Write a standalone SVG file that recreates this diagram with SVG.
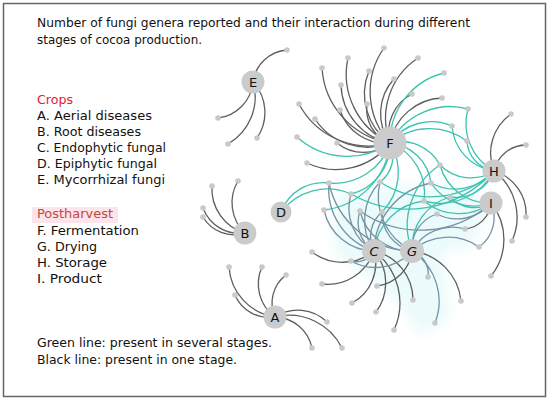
<svg xmlns="http://www.w3.org/2000/svg" width="550" height="401" viewBox="0 0 550 401">
<defs>
<filter id="blur" x="-20%" y="-20%" width="140%" height="140%"><feGaussianBlur stdDeviation="6"/></filter>
</defs>
<style>
text{font-family:"DejaVu Sans","Liberation Sans",sans-serif;font-size:12.5px;fill:#111}
.red{fill:#e8192c}
.ph{fill:#bf4a3a}
#connectors path{fill:none;stroke-width:1.3}
.k{stroke:#5e5e5e}
.t{stroke:#3cc3b0}
.s{stroke:#7693a4}
.leaf{fill:#c9c9c9}
.hub circle{fill:#cbcbcb}
.hub text{font-size:13px;text-anchor:middle;fill:#111}
</style>
<rect x="3.5" y="3.5" width="542" height="393" fill="#fff" stroke="#666" stroke-width="1.5"/>
<path d="M335,196 L400,186 L470,188 L486,214 L472,246 L442,252 L450,318 L420,336 L398,302 L366,276 L334,252 Z" fill="#dcf7f7" opacity="0.55" filter="url(#blur)"/>
<g id="connectors">
<path class="k" d="M253 82 A37 37 0 0 1 287 50"/>
<path class="k" d="M253 82 A40 40 0 0 1 218 118"/>
<path class="k" d="M253 82 A54 54 0 0 1 228 144"/>
<path class="k" d="M253 82 A45 45 0 0 1 257 138"/>
<path class="k" d="M245 233 A46 46 0 0 1 212 186"/>
<path class="k" d="M245 233 A42 42 0 0 1 238 181"/>
<path class="k" d="M245 233 A39 39 0 0 1 203 208"/>
<path class="k" d="M245 233 A36 36 0 0 1 203 217"/>
<path class="t" d="M281 212 A45 45 0 0 1 329 183"/>
<path class="t" d="M281 212 A58 58 0 0 1 351 194"/>
<path class="k" d="M275 317 A54 54 0 0 1 229 267"/>
<path class="k" d="M275 317 A41 41 0 0 1 262 267"/>
<path class="k" d="M275 317 A35 35 0 0 1 286 275"/>
<path class="k" d="M275 317 A37 37 0 0 1 235 295"/>
<path class="k" d="M275 317 A42 42 0 0 1 327 322"/>
<path class="k" d="M275 317 A39 39 0 0 1 312 348"/>
<path class="k" d="M275 317 A59 59 0 0 1 342 348"/>
<path class="k" d="M390 143 A76 76 0 0 1 384 48"/>
<path class="k" d="M390 143 A76 76 0 0 1 348 58"/>
<path class="k" d="M390 143 A81 81 0 0 1 322 68"/>
<path class="k" d="M390 143 A60 60 0 0 1 369 71"/>
<path class="k" d="M390 143 A61 61 0 0 1 341 85"/>
<path class="k" d="M390 143 A51 51 0 0 1 394 79"/>
<path class="k" d="M390 143 A72 72 0 0 1 418 58"/>
<path class="k" d="M390 143 A79 79 0 0 1 299 104"/>
<path class="k" d="M390 143 A36 36 0 0 1 367 104"/>
<path class="k" d="M390 143 A48 48 0 0 1 340 110"/>
<path class="k" d="M390 143 A63 63 0 0 1 315 119"/>
<path class="k" d="M390 143 A42 42 0 0 1 337 143"/>
<path class="k" d="M390 143 A68 68 0 0 1 307 163"/>
<path class="k" d="M390 143 A43 43 0 0 1 412 94"/>
<path class="k" d="M390 143 A55 55 0 0 1 442 98"/>
<path class="t" d="M390 143 A75 75 0 0 1 297 137"/>
<path class="t" d="M390 143 A58 58 0 0 1 329 183"/>
<path class="t" d="M390 143 A51 51 0 0 1 351 194"/>
<path class="t" d="M390 143 A32 32 0 0 1 380 182"/>
<path class="t" d="M390 143 A71 71 0 0 1 444 73"/>
<path class="t" d="M390 143 A68 68 0 0 1 468 109"/>
<path class="t" d="M390 143 A51 51 0 0 1 452 126"/>
<path class="t" d="M390 143 A62 62 0 0 1 467 141"/>
<path class="t" d="M390 143 A44 44 0 0 1 440 165"/>
<path class="t" d="M390 143 A46 46 0 0 1 431 183"/>
<path class="t" d="M390 143 A54 54 0 0 1 424 201"/>
<path class="t" d="M390 143 A56 56 0 0 1 382 212"/>
<path class="t" d="M390 143 A75 75 0 0 1 324 210"/>
<path class="k" d="M494 171 A48 48 0 0 1 511 114"/>
<path class="k" d="M494 171 A33 33 0 0 1 526 145"/>
<path class="k" d="M494 171 A45 45 0 0 1 526 217"/>
<path class="k" d="M494 171 A58 58 0 0 1 512 241"/>
<path class="t" d="M494 171 A54 54 0 0 1 468 109"/>
<path class="t" d="M494 171 A49 49 0 0 1 452 126"/>
<path class="t" d="M494 171 A32 32 0 0 1 467 141"/>
<path class="t" d="M494 171 A43 43 0 0 1 440 165"/>
<path class="t" d="M494 171 A51 51 0 0 1 431 183"/>
<path class="t" d="M494 171 A41 41 0 0 1 450 197"/>
<path class="t" d="M494 171 A61 61 0 0 1 424 201"/>
<path class="t" d="M494 171 A92 92 0 0 1 380 182"/>
<path class="t" d="M494 171 A116 116 0 0 1 351 194"/>
<path class="k" d="M491 203 A58 58 0 0 1 491 276"/>
<path class="k" d="M491 203 A29 29 0 0 1 465 229"/>
<path class="s" d="M491 203 A44 44 0 0 1 437 214"/>
<path class="s" d="M491 203 A36 36 0 0 1 479 247"/>
<path class="t" d="M491 203 A33 33 0 0 1 450 197"/>
<path class="t" d="M491 203 A54 54 0 0 1 424 201"/>
<path class="t" d="M491 203 A51 51 0 0 1 440 165"/>
<path class="t" d="M491 203 A51 51 0 0 1 431 183"/>
<path class="s" d="M491 203 A105 105 0 0 1 360 211"/>
<path class="k" d="M374 251 A50 50 0 0 1 312 252"/>
<path class="k" d="M374 251 A49 49 0 0 1 322 284"/>
<path class="k" d="M374 251 A45 45 0 0 1 352 303"/>
<path class="k" d="M374 251 A49 49 0 0 1 376 312"/>
<path class="k" d="M374 251 A65 65 0 0 1 394 330"/>
<path class="k" d="M374 251 A50 50 0 0 1 413 300"/>
<path class="s" d="M374 251 A20 20 0 0 1 351 261"/>
<path class="s" d="M374 251 A52 52 0 0 1 324 210"/>
<path class="s" d="M374 251 A65 65 0 0 1 329 183"/>
<path class="s" d="M374 251 A49 49 0 0 1 351 194"/>
<path class="s" d="M374 251 A34 34 0 0 1 360 211"/>
<path class="s" d="M374 251 A32 32 0 0 1 382 212"/>
<path class="s" d="M374 251 A55 55 0 0 1 380 182"/>
<path class="s" d="M374 251 A71 71 0 0 1 431 183"/>
<path class="t" d="M374 251 A57 57 0 0 1 424 201"/>
<path class="k" d="M412 251 A40 40 0 0 1 377 286"/>
<path class="k" d="M412 251 A56 56 0 0 1 461 301"/>
<path class="s" d="M412 251 A24 24 0 0 1 428 277"/>
<path class="s" d="M412 251 A60 60 0 0 1 435 323"/>
<path class="s" d="M412 251 A49 49 0 0 1 351 261"/>
<path class="t" d="M412 251 A72 72 0 0 1 440 165"/>
<path class="t" d="M412 251 A53 53 0 0 1 450 197"/>
<path class="s" d="M412 251 A36 36 0 0 1 437 214"/>
<path class="s" d="M412 251 A54 54 0 0 1 479 247"/>
<path class="s" d="M412 251 A52 52 0 0 1 360 211"/>
<path class="s" d="M412 251 A39 39 0 0 1 382 212"/>
<path class="s" d="M412 251 A61 61 0 0 1 380 182"/>
<path class="s" d="M412 251 A86 86 0 0 1 329 183"/>
<path class="s" d="M412 251 A46 46 0 0 1 465 229"/>
</g>
<g id="leaf-nodes" class="leaf">
<circle cx="287" cy="50" r="2.8"/><circle cx="218" cy="118" r="2.8"/><circle cx="228" cy="144" r="2.8"/><circle cx="257" cy="138" r="2.8"/>
<circle cx="212" cy="186" r="2.8"/><circle cx="238" cy="181" r="2.8"/><circle cx="203" cy="208" r="2.8"/><circle cx="203" cy="217" r="2.8"/>
<circle cx="229" cy="267" r="2.8"/><circle cx="262" cy="267" r="2.8"/><circle cx="286" cy="275" r="2.8"/><circle cx="235" cy="295" r="2.8"/><circle cx="327" cy="322" r="2.8"/><circle cx="312" cy="348" r="2.8"/><circle cx="342" cy="348" r="2.8"/>
<circle cx="384" cy="48" r="2.8"/><circle cx="348" cy="58" r="2.8"/><circle cx="322" cy="68" r="2.8"/><circle cx="369" cy="71" r="2.8"/><circle cx="341" cy="85" r="2.8"/><circle cx="394" cy="79" r="2.8"/><circle cx="418" cy="58" r="2.8"/><circle cx="299" cy="104" r="2.8"/><circle cx="367" cy="104" r="2.8"/><circle cx="340" cy="110" r="2.8"/><circle cx="315" cy="119" r="2.8"/><circle cx="337" cy="143" r="2.8"/><circle cx="307" cy="163" r="2.8"/><circle cx="412" cy="94" r="2.8"/><circle cx="442" cy="98" r="2.8"/>
<circle cx="297" cy="137" r="2.8"/><circle cx="329" cy="183" r="2.8"/><circle cx="351" cy="194" r="2.8"/><circle cx="380" cy="182" r="2.8"/><circle cx="444" cy="73" r="2.8"/><circle cx="468" cy="109" r="2.8"/><circle cx="452" cy="126" r="2.8"/><circle cx="467" cy="141" r="2.8"/><circle cx="440" cy="165" r="2.8"/><circle cx="431" cy="183" r="2.8"/><circle cx="424" cy="201" r="2.8"/><circle cx="382" cy="212" r="2.8"/><circle cx="324" cy="210" r="2.8"/>
<circle cx="511" cy="114" r="2.8"/><circle cx="526" cy="145" r="2.8"/><circle cx="526" cy="217" r="2.8"/><circle cx="512" cy="241" r="2.8"/><circle cx="450" cy="197" r="2.8"/>
<circle cx="491" cy="276" r="2.8"/><circle cx="465" cy="229" r="2.8"/><circle cx="437" cy="214" r="2.8"/><circle cx="479" cy="247" r="2.8"/><circle cx="360" cy="211" r="2.8"/>
<circle cx="312" cy="252" r="2.8"/><circle cx="322" cy="284" r="2.8"/><circle cx="352" cy="303" r="2.8"/><circle cx="376" cy="312" r="2.8"/><circle cx="394" cy="330" r="2.8"/><circle cx="413" cy="300" r="2.8"/><circle cx="351" cy="261" r="2.8"/>
<circle cx="377" cy="286" r="2.8"/><circle cx="461" cy="301" r="2.8"/><circle cx="428" cy="277" r="2.8"/><circle cx="435" cy="323" r="2.8"/>
</g>
<g id="node-E" class="hub"><circle cx="253" cy="82" r="11.5"/><text x="253" y="87">E</text></g>
<g id="node-F" class="hub"><circle cx="390" cy="143" r="16.5"/><text x="390" y="148">F</text></g>
<g id="node-H" class="hub"><circle cx="494" cy="171" r="11.5"/><text x="494" y="176">H</text></g>
<g id="node-I" class="hub"><circle cx="491" cy="203" r="11.5"/><text x="491" y="208">I</text></g>
<g id="node-D" class="hub"><circle cx="281" cy="212" r="10.5"/><text x="281" y="217">D</text></g>
<g id="node-B" class="hub"><circle cx="245" cy="233" r="11.5"/><text x="245" y="238">B</text></g>
<g id="node-C" class="hub"><circle cx="374" cy="251" r="12"/><text x="374" y="256" font-style="italic">C</text></g>
<g id="node-G" class="hub"><circle cx="412" cy="251" r="12"/><text x="412" y="256" font-style="italic">G</text></g>
<g id="node-A" class="hub"><circle cx="275" cy="317" r="11.5"/><text x="275" y="322">A</text></g>
<g id="texts">
<text x="37" y="27" textLength="433" lengthAdjust="spacingAndGlyphs">Number of fungi genera reported and their interaction during different</text>
<text x="37" y="44" textLength="165" lengthAdjust="spacingAndGlyphs">stages of cocoa production.</text>
<text x="37" y="104" class="red" textLength="36" lengthAdjust="spacingAndGlyphs">Crops</text>
<text x="37" y="120" textLength="115" lengthAdjust="spacingAndGlyphs">A. Aerial diseases</text>
<text x="37" y="136" textLength="104" lengthAdjust="spacingAndGlyphs">B. Root diseases</text>
<text x="37" y="152" textLength="129" lengthAdjust="spacingAndGlyphs">C. Endophytic fungal</text>
<text x="37" y="168" textLength="120" lengthAdjust="spacingAndGlyphs">D. Epiphytic fungal</text>
<text x="37" y="184" textLength="128" lengthAdjust="spacingAndGlyphs">E. Mycorrhizal fungi</text>
<rect x="32" y="207" width="86" height="16" fill="#fde3ea"/>
<text x="37" y="218" class="ph" textLength="76" lengthAdjust="spacingAndGlyphs">Postharvest</text>
<text x="37" y="235" textLength="102" lengthAdjust="spacingAndGlyphs">F. Fermentation</text>
<text x="37" y="251" textLength="60" lengthAdjust="spacingAndGlyphs">G. Drying</text>
<text x="37" y="267" textLength="70" lengthAdjust="spacingAndGlyphs">H. Storage</text>
<text x="37" y="283" textLength="65" lengthAdjust="spacingAndGlyphs">I. Product</text>
<text x="37" y="347" textLength="235" lengthAdjust="spacingAndGlyphs">Green line: present in several stages.</text>
<text x="37" y="364" textLength="200" lengthAdjust="spacingAndGlyphs">Black line: present in one stage.</text>
</g>
</svg>
